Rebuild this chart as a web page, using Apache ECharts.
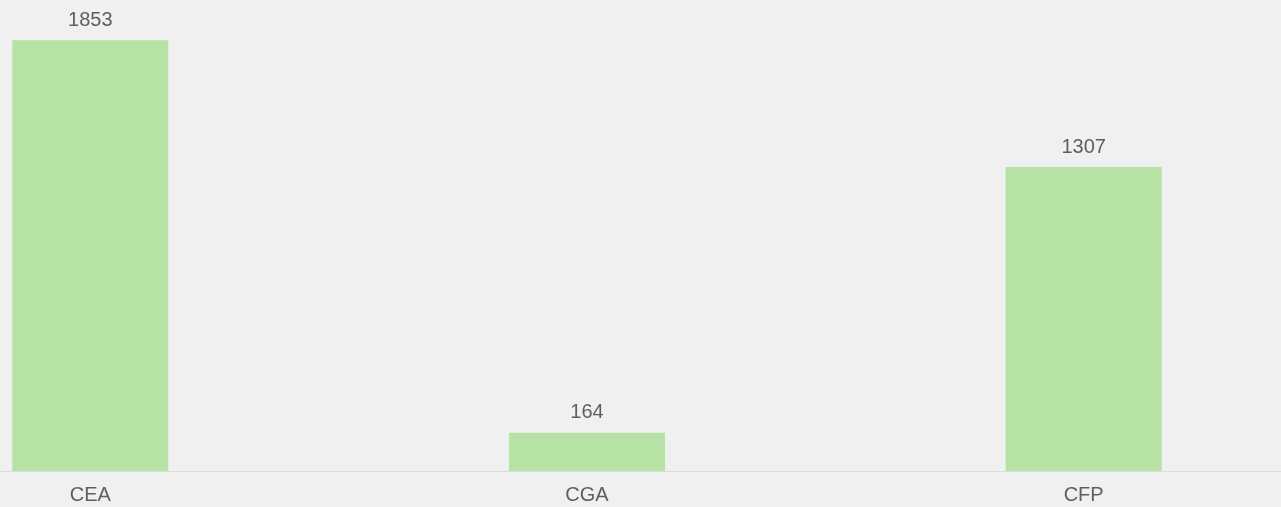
<!DOCTYPE html>
<html>
<head>
<meta charset="utf-8">
<script src="https://cdn.jsdelivr.net/npm/echarts@6/dist/echarts.min.js"></script>
<style>
html, body { margin: 0; padding: 0; background: #f0f0f0; overflow: hidden; }
#wrap { width: 1281px; height: 507px; overflow: hidden; position: relative; }
#chart { width: 1490px; height: 507px; position: absolute; left: -158px; top: 0; }
</style>
</head>
<body>
<div id="wrap"><div id="chart"></div></div>
<script>
var categories = ['CEA', 'CGA', 'CFP'];
var values = [1853, 164, 1307];

var myChart = echarts.init(document.getElementById('chart'));
var option = {
    backgroundColor: '#f0f0f0',
    animation: false,
    grid: {
        left: 0,
        right: 0,
        top: 6,
        bottom: 36,
        containLabel: false
    },
    xAxis: {
        type: 'category',
        data: categories,
        axisLine: { lineStyle: { color: '#dcdcdc', width: 1 } },
        axisTick: { show: false },
        axisLabel: {
            color: '#5f5f5f',
            fontSize: 20,
            fontFamily: 'Liberation Sans, Arial, sans-serif',
            margin: 14
        }
    },
    yAxis: {
        type: 'value',
        min: 0,
        max: 2000,
        show: false
    },
    series: [{
        type: 'bar',
        data: values,
        barWidth: 156,
        itemStyle: { color: '#b6e2a6' },
        label: {
            show: true,
            position: 'top',
            distance: 10,
            color: '#5f5f5f',
            fontSize: 20,
            fontFamily: 'Liberation Sans, Arial, sans-serif'
        }
    }]
};
myChart.setOption(option);
</script>
</body>
</html>
